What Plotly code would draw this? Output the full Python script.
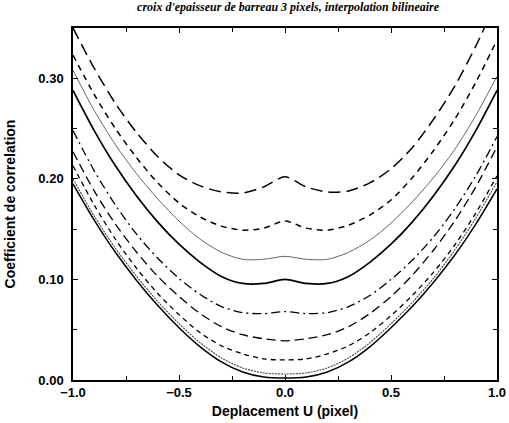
import plotly.graph_objects as go

# displacement grid (pixel)
u = [-1.0, -0.9, -0.8, -0.7, -0.6, -0.5, -0.4, -0.3, -0.2, -0.1, 0.0,
     0.1, 0.2, 0.3, 0.4, 0.5, 0.6, 0.7, 0.8, 0.9, 1.0]

# correlation coefficient curves (top to bottom)
c1 = [0.350, 0.310, 0.275, 0.246, 0.222, 0.204, 0.193, 0.187, 0.186, 0.192, 0.202,
      0.192, 0.187, 0.188, 0.196, 0.210, 0.231, 0.259, 0.292, 0.332, 0.378]
c2 = [0.323, 0.284, 0.250, 0.221, 0.196, 0.176, 0.162, 0.153, 0.149, 0.151, 0.158,
      0.151, 0.149, 0.154, 0.164, 0.179, 0.201, 0.228, 0.259, 0.296, 0.338]
c3 = [0.308, 0.268, 0.234, 0.205, 0.180, 0.158, 0.140, 0.127, 0.120, 0.120, 0.123,
      0.120, 0.120, 0.127, 0.139, 0.156, 0.177, 0.201, 0.229, 0.263, 0.302]
c4 = [0.288, 0.248, 0.213, 0.183, 0.157, 0.135, 0.117, 0.103, 0.096, 0.096, 0.100,
      0.096, 0.096, 0.103, 0.117, 0.135, 0.157, 0.183, 0.213, 0.248, 0.288]
c5 = [0.248, 0.208, 0.174, 0.145, 0.121, 0.101, 0.085, 0.073, 0.067, 0.066, 0.068,
      0.066, 0.067, 0.073, 0.084, 0.100, 0.119, 0.142, 0.170, 0.203, 0.242]
c6 = [0.227, 0.188, 0.155, 0.127, 0.103, 0.083, 0.066, 0.053, 0.045, 0.041, 0.039,
      0.041, 0.045, 0.053, 0.066, 0.083, 0.104, 0.129, 0.158, 0.192, 0.232]
c7 = [0.213, 0.174, 0.140, 0.111, 0.086, 0.065, 0.047, 0.034, 0.026, 0.021, 0.020,
      0.021, 0.026, 0.034, 0.047, 0.064, 0.084, 0.107, 0.134, 0.166, 0.203]
c8 = [0.200, 0.163, 0.131, 0.103, 0.078, 0.056, 0.037, 0.022, 0.012, 0.007, 0.006,
      0.007, 0.012, 0.022, 0.037, 0.056, 0.077, 0.101, 0.129, 0.161, 0.197]
c9 = [0.195, 0.159, 0.127, 0.099, 0.074, 0.052, 0.033, 0.018, 0.008, 0.003, 0.002,
      0.003, 0.008, 0.018, 0.033, 0.052, 0.073, 0.097, 0.124, 0.155, 0.190]

curves = [
    (c1, '12px,6px', 1.5, 'black'),
    (c2, '6px,5px', 1.5, 'black'),
    (c3, 'solid', 0.9, '#555555'),
    (c4, 'solid', 1.7, 'black'),
    (c5, '9px,4px,2px,4px', 1.3, 'black'),
    (c6, '9px,5px', 1.3, 'black'),
    (c7, '5px,4px', 1.3, 'black'),
    (c8, '2px,1px', 1.1, '#444444'),
    (c9, 'solid', 1.5, 'black'),
]

fig = go.Figure()
for ys, dash, w, col in curves:
    fig.add_trace(go.Scatter(x=u, y=ys, mode='lines', showlegend=False,
                             line=dict(color=col, width=w, dash=dash,
                                       shape='spline', smoothing=0.8)))

axfont = dict(family='Liberation Sans', size=13, color='black', weight='bold')
titlefont = dict(family='Liberation Sans', size=14, color='black', weight='bold')

fig.update_layout(
    width=509, height=423,
    margin=dict(l=73, r=12, t=28, b=43),
    paper_bgcolor='white', plot_bgcolor='white',
    title=dict(text="<i>croix d'epaisseur de barreau 3 pixels, interpolation bilineaire</i>",
               x=0.566, xanchor='center', y=0.995, yanchor='top',
               font=dict(family='Liberation Serif', size=12, color='black', weight='bold')),
)
fig.update_xaxes(range=[-1, 1], tickvals=[-1, -0.5, 0, 0.5, 1], tickformat='.1f',
                 ticks='inside', ticklen=5, tickcolor='black', automargin=False,
                 ticklabeloverflow='allow',
                 minor=dict(tickvals=[-0.75, -0.25, 0.25, 0.75], ticks='inside',
                            ticklen=4, tickcolor='black'),
                 showline=True, linecolor='black', linewidth=1.5, mirror='ticks',
                 showgrid=False, zeroline=False, tickfont=axfont,
                 title=dict(text='Deplacement U (pixel)', font=titlefont, standoff=7))
fig.update_yaxes(range=[0, 0.35], tickvals=[0, 0.1, 0.2, 0.3], tickformat='.2f',
                 ticks='inside', ticklen=5, tickcolor='black', automargin=False,
                 ticklabelstandoff=5, ticklabeloverflow='allow',
                 minor=dict(tickvals=[0.05, 0.15, 0.25], ticks='inside',
                            ticklen=4, tickcolor='black'),
                 showline=True, linecolor='black', linewidth=1.5, mirror='ticks',
                 showgrid=False, zeroline=False, tickfont=axfont,
                 title=dict(text='Coefficient de correlation', font=titlefont, standoff=19))

# drop the default page margin so the figure sits at the window's corner
fig.write_html("out.html", config={'displayModeBar': False},
               post_script="document.body.style.margin='0';")
